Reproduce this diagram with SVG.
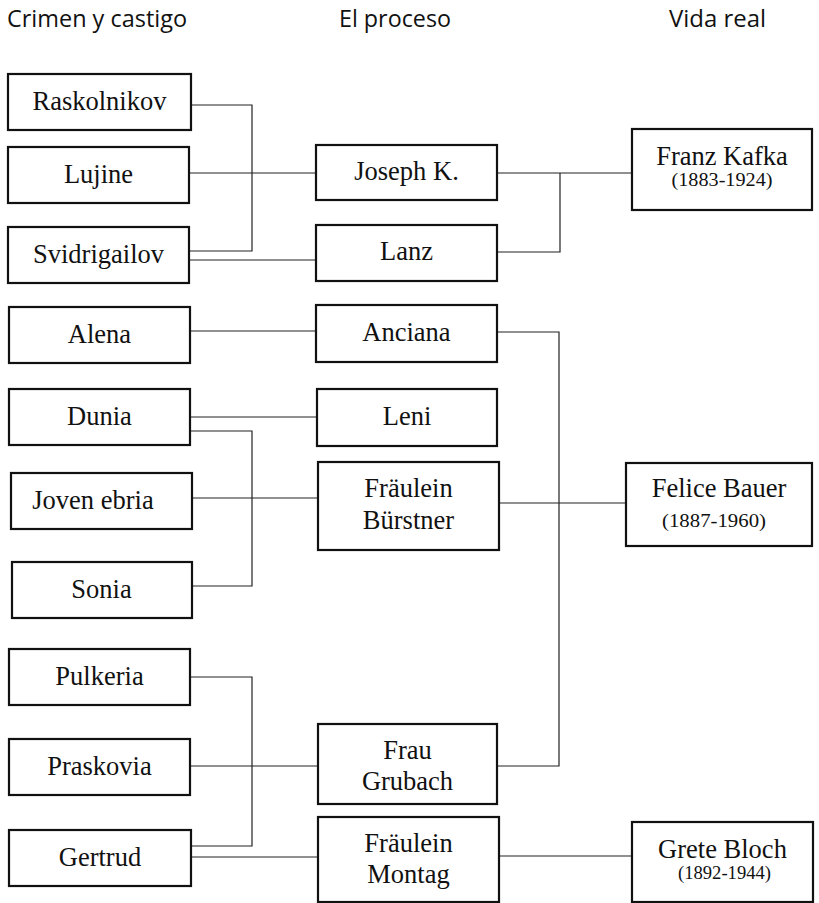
<svg xmlns="http://www.w3.org/2000/svg" width="819" height="903" viewBox="0 0 819 903">
<style>
.box{fill:#fff;stroke:#111;stroke-width:2.2}
.t{font-family:"Liberation Serif","Times New Roman",serif;font-size:26.5px;fill:#111;text-anchor:middle}
.y{font-family:"Liberation Serif","Times New Roman",serif;font-size:18px;fill:#111;text-anchor:middle}
.h{font-family:"Open Sans","Liberation Sans",sans-serif;font-size:23px;fill:#111}
.c{fill:none;stroke:#222;stroke-width:1.2}
</style>
<rect width="819" height="903" fill="#fff"/>
<g id="headers">
<text class="h" x="7" y="27" textLength="180" lengthAdjust="spacingAndGlyphs">Crimen y castigo</text>
<text class="h" x="339" y="27" textLength="112" lengthAdjust="spacingAndGlyphs">El proceso</text>
<text class="h" x="669" y="27" textLength="97" lengthAdjust="spacingAndGlyphs">Vida real</text>
</g>
<g id="connectors">
<path class="c" d="M191,105 H252 V251 H189"/>
<path class="c" d="M189,173 H316"/>
<path class="c" d="M189,260 H316"/>
<path class="c" d="M497,173 H632"/>
<path class="c" d="M497,252 H560 V173"/>
<path class="c" d="M190,331 H316"/>
<path class="c" d="M190,417 H317"/>
<path class="c" d="M190,431 H252 V586 H192"/>
<path class="c" d="M192,498 H318"/>
<path class="c" d="M497,332 H559 V766 H497"/>
<path class="c" d="M499,503 H626"/>
<path class="c" d="M190,677 H252 V846 H191"/>
<path class="c" d="M190,766 H318"/>
<path class="c" d="M191,857 H318"/>
<path class="c" d="M499,856 H632"/>
</g>
<g id="raskolnikov"><rect class="box" x="8" y="74" width="183" height="56"/><text class="t" x="99.5" y="109.5">Raskolnikov</text></g>
<g id="lujine"><rect class="box" x="8" y="147" width="181" height="56"/><text class="t" x="98.5" y="182.5">Lujine</text></g>
<g id="svidrigailov"><rect class="box" x="8" y="227" width="181" height="56"/><text class="t" x="98.5" y="262.5">Svidrigailov</text></g>
<g id="alena"><rect class="box" x="9" y="307" width="181" height="56"/><text class="t" x="99.5" y="342.5">Alena</text></g>
<g id="dunia"><rect class="box" x="9" y="389" width="181" height="56"/><text class="t" x="99.5" y="424.5">Dunia</text></g>
<g id="joven-ebria"><rect class="box" x="11" y="473" width="181" height="56"/><text class="t" x="93" y="508.5">Joven ebria</text></g>
<g id="sonia"><rect class="box" x="12" y="562" width="180" height="56"/><text class="t" x="101.5" y="597.5">Sonia</text></g>
<g id="pulkeria"><rect class="box" x="9" y="649" width="181" height="56"/><text class="t" x="99.5" y="684.5">Pulkeria</text></g>
<g id="praskovia"><rect class="box" x="9" y="739" width="181" height="56"/><text class="t" x="99.5" y="774.5">Praskovia</text></g>
<g id="gertrud"><rect class="box" x="9" y="830" width="182" height="56"/><text class="t" x="100" y="865.5">Gertrud</text></g>
<g id="joseph-k"><rect class="box" x="316" y="145" width="181" height="55"/><text class="t" x="406.5" y="180">Joseph K.</text></g>
<g id="lanz"><rect class="box" x="316" y="225" width="181" height="56"/><text class="t" x="406.5" y="260">Lanz</text></g>
<g id="anciana"><rect class="box" x="316" y="305" width="181" height="57"/><text class="t" x="406.5" y="341">Anciana</text></g>
<g id="leni"><rect class="box" x="317" y="389" width="180" height="57"/><text class="t" x="407" y="425">Leni</text></g>
<g id="fraulein-burstner"><rect class="box" x="318" y="462" width="181" height="88"/><text class="t" x="408.5" y="497">Fräulein</text><text class="t" x="408.5" y="529">Bürstner</text></g>
<g id="frau-grubach"><rect class="box" x="318" y="724" width="179" height="80"/><text class="t" x="407.5" y="759">Frau</text><text class="t" x="407.5" y="790">Grubach</text></g>
<g id="fraulein-montag"><rect class="box" x="318" y="817" width="181" height="85"/><text class="t" x="408.5" y="852">Fräulein</text><text class="t" x="408.5" y="883">Montag</text></g>
<g id="franz-kafka"><rect class="box" x="632" y="129" width="180" height="81"/><text class="t" x="722" y="165">Franz Kafka</text><text class="y" x="722" y="186" textLength="101" lengthAdjust="spacingAndGlyphs">(1883-1924)</text></g>
<g id="felice-bauer"><rect class="box" x="626" y="463" width="186" height="83"/><text class="t" x="719" y="497">Felice Bauer</text><text class="y" x="714" y="527" textLength="104" lengthAdjust="spacingAndGlyphs">(1887-1960)</text></g>
<g id="grete-bloch"><rect class="box" x="632" y="822" width="181" height="80"/><text class="t" x="722.5" y="858">Grete Bloch</text><text class="y" x="724.5" y="879" textLength="93" lengthAdjust="spacingAndGlyphs">(1892-1944)</text></g>
</svg>
